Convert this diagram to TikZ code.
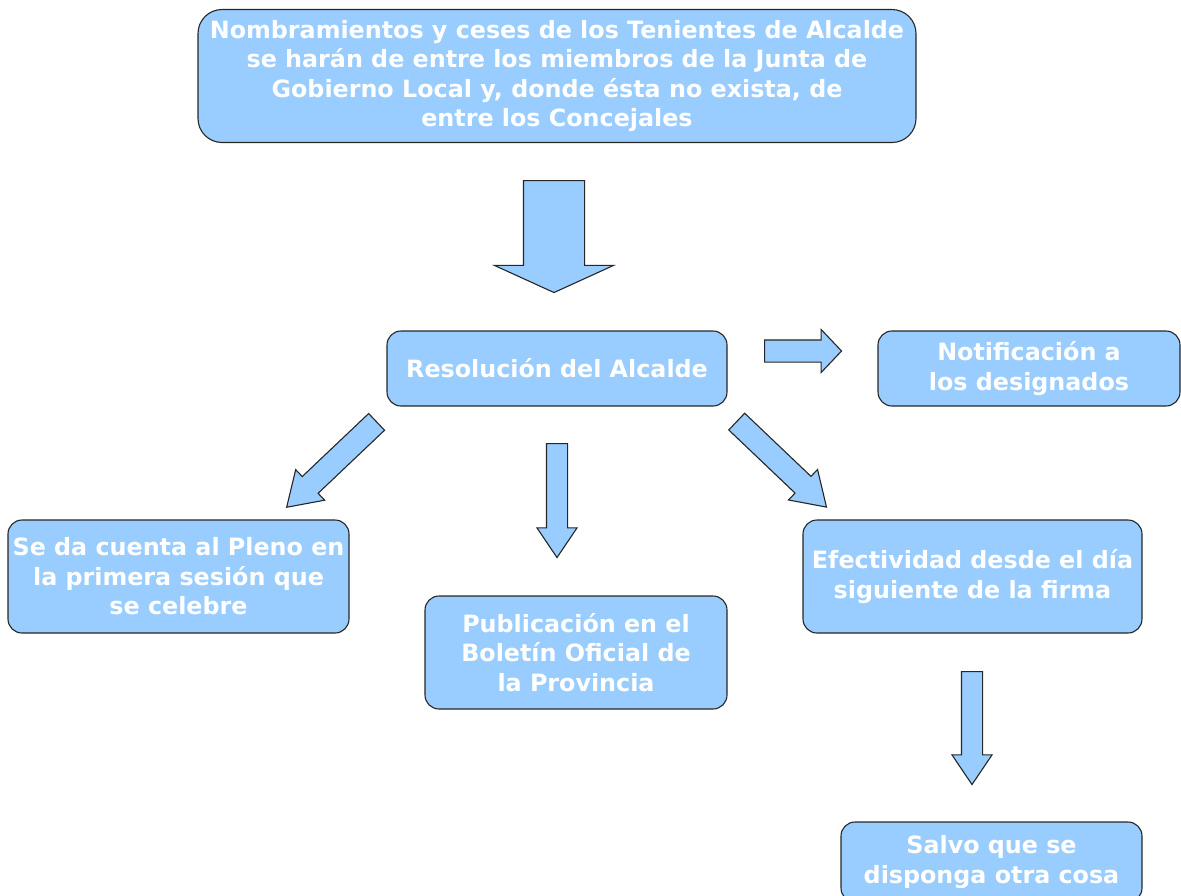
\documentclass[tikz,border=0pt]{standalone}
\usepackage{fontspec}
\setmainfont{DejaVu Sans}
\usetikzlibrary{shapes.arrows}
\definecolor{boxblue}{HTML}{99CCFF}

\begin{document}
\begin{tikzpicture}[x=1pt, y=-1pt,
   every node/.style={align=center},
   box/.style={draw=black!85, line width=1.1pt, fill=boxblue, rounded corners=14pt, text=white,
      font=\bfseries\fontsize{23.8}{29.5}\selectfont},
   blockarrow/.style={draw=black!85, line width=1.1pt, fill=boxblue, single arrow, inner sep=0pt, anchor=tail}]
   \useasboundingbox (0,0) rectangle (1181,895);
   \clip (0,0) rectangle (1181,895);

   \node[box, rounded corners=24pt, minimum width=718pt, minimum height=133pt] (nombr) at (557,76)
      {Nombramientos y ceses de los Tenientes de Alcalde\\ se harán de entre los miembros de la Junta de\\ Gobierno Local y, donde ésta no exista, de\\ entre los Concejales};
   \node[box, minimum width=340pt, minimum height=75pt] (resol) at (557,368.5) {Resolución del Alcalde};
   \node[box, minimum width=302pt, minimum height=75pt] (notif) at (1029,368.5) {Notificación a\\ los designados};
   \node[box, minimum width=341pt, minimum height=113pt] (pleno) at (178.5,576.5) {Se da cuenta al Pleno en\\ la primera sesión que\\ se celebre};
   \node[box, minimum width=302pt, minimum height=113pt] (bop) at (576,652.5) {Publicación en el\\ Boletín Oficial de\\ la Provincia};
   \node[box, minimum width=339pt, minimum height=113pt] (efect) at (972.5,576.5) {Efectividad desde el día\\ siguiente de la firma};
   \node[box, minimum width=301pt, minimum height=80pt] (salvo) at (991.5,862) {Salvo que se\\ disponga otra cosa};

   % block arrows between the boxes
   \node[blockarrow, rotate=-90, minimum height=112pt, inner ysep=30pt, single arrow head extend=29pt, single arrow tip angle=131] (arrNombr) at (554,180) {};
   \node[blockarrow, minimum height=77pt, inner ysep=10.5pt, single arrow head extend=10.5pt, single arrow tip angle=93] (arrNotif) at (764,351) {};
   \node[blockarrow, rotate=223.5, minimum height=124pt, inner ysep=11pt, single arrow head extend=9.5pt, single arrow tip angle=66] (arrPleno) at (377,421.5) {};
   \node[blockarrow, rotate=-90, minimum height=114pt, inner ysep=10pt, single arrow head extend=9.5pt, single arrow tip angle=68] (arrBop) at (557,443) {};
   \node[blockarrow, rotate=-43.6, minimum height=124pt, inner ysep=11pt, single arrow head extend=9.5pt, single arrow tip angle=66] (arrEfect) at (736.3,421.2) {};
   \node[blockarrow, rotate=-90, minimum height=113pt, inner ysep=10pt, single arrow head extend=9.5pt, single arrow tip angle=68] (arrSalvo) at (972,671) {};
\end{tikzpicture}
\end{document}
